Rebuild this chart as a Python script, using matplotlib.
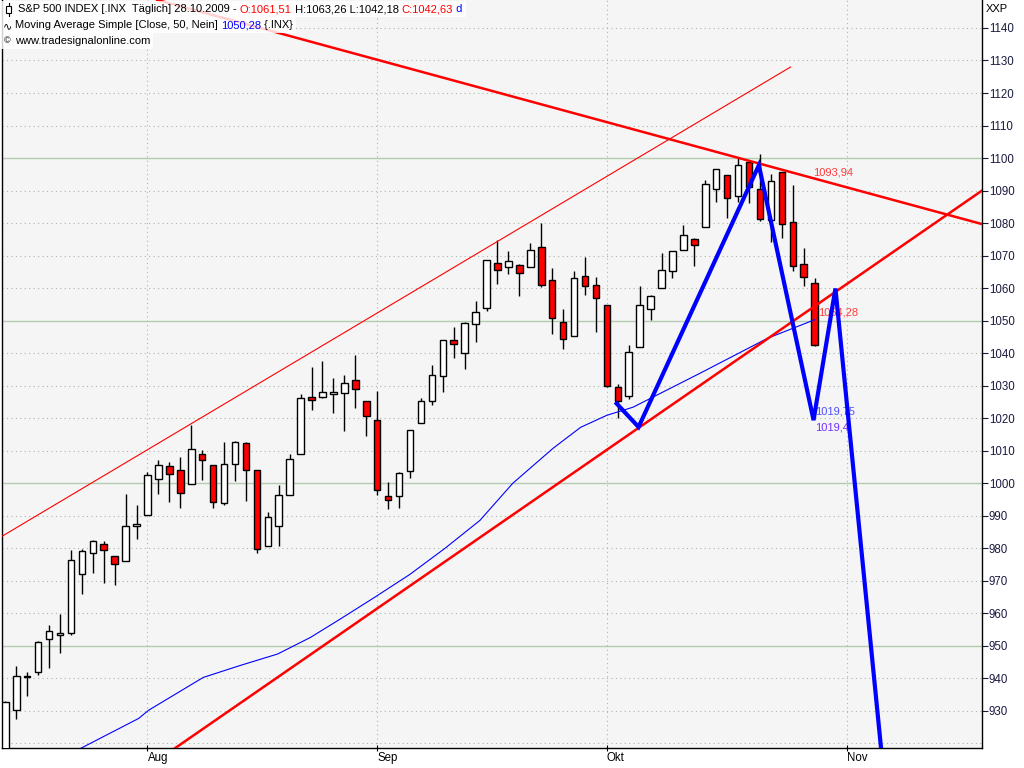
import matplotlib
matplotlib.use("Agg")
from matplotlib import pyplot as plt
from matplotlib.patches import Rectangle
import numpy as np
import pandas as pd

# S&P 500 daily bars, 15.07.2009 - 28.10.2009
opens = [918.38, 930.17, 940.56, 942.07, 951.97, 953.40, 954.07, 972.16, 978.63, 981.48, 977.66, 976.01, 986.80,
         990.22, 1001.41, 1005.41, 1004.06, 999.83, 1008.89, 1005.77, 994.00, 1005.86, 1012.23, 1004.00, 980.62,
         986.88, 996.41, 1009.06, 1026.59, 1026.63, 1027.35, 1027.81, 1031.62, 1025.21,
         1019.52, 996.07, 996.12, 1003.84, 1018.67, 1025.36, 1032.99, 1043.92, 1040.15, 1049.03, 1053.99, 1067.87,
         1066.60, 1067.14, 1066.35, 1072.69, 1062.56, 1049.48, 1045.38, 1063.69, 1061.02,
         1054.91, 1029.71, 1026.87, 1042.02, 1053.65, 1060.03, 1065.28, 1071.63, 1074.96, 1078.68, 1090.36, 1094.67,
         1088.22, 1098.64, 1090.36, 1080.96, 1095.62, 1080.36, 1067.54, 1061.51]
highs = [933.00, 943.96, 941.89, 951.62, 956.53, 959.83, 979.42, 979.79, 982.49, 982.35, 977.76, 996.68, 993.18,
         1003.61, 1007.12, 1006.64, 1008.00, 1018.00, 1010.12, 1005.77, 1012.78, 1013.14, 1012.60, 1004.00, 991.20,
         999.61, 1008.92, 1027.59, 1035.82, 1037.75, 1032.47, 1033.33, 1039.47, 1025.21,
         1028.45, 1000.34, 1003.43, 1016.48, 1026.07, 1036.34, 1044.14, 1048.18, 1049.74, 1056.04, 1068.76, 1074.77,
         1071.52, 1067.28, 1073.81, 1080.15, 1066.29, 1053.47, 1065.13, 1069.62, 1063.40,
         1054.91, 1030.60, 1042.58, 1060.55, 1058.02, 1070.67, 1071.51, 1079.46, 1075.30, 1093.17, 1096.56, 1094.67,
         1100.17, 1098.64, 1101.36, 1095.21, 1095.83, 1091.75, 1072.48, 1063.26]
lows = [918.38, 927.45, 934.65, 940.99, 943.22, 947.75, 953.27, 965.95, 972.29, 969.35, 968.65, 976.01, 982.85,
        990.22, 996.68, 994.31, 992.49, 999.83, 1000.99, 992.40, 993.36, 1000.82, 994.60, 978.51, 980.62,
        980.62, 996.39, 1009.06, 1022.48, 1026.21, 1021.57, 1016.20, 1023.13, 1014.62,
        996.28, 991.97, 992.25, 1001.65, 1018.67, 1023.97, 1028.04, 1038.40, 1035.00, 1043.42, 1052.87, 1061.20,
        1064.27, 1057.46, 1066.35, 1060.39, 1045.85, 1041.17, 1045.38, 1057.83, 1046.47,
        1029.45, 1019.95, 1025.92, 1042.02, 1050.10, 1060.03, 1063.00, 1071.63, 1066.71, 1078.68, 1086.41, 1081.53,
        1086.48, 1086.16, 1080.77, 1074.31, 1075.49, 1065.23, 1060.62, 1042.18]
closes = [932.68, 940.74, 940.38, 951.13, 954.58, 954.07, 976.29, 979.26, 982.18, 979.62, 975.15, 986.75, 987.48,
          1002.63, 1005.65, 1002.72, 997.08, 1010.48, 1007.10, 994.35, 1005.81, 1012.73, 1004.09, 979.73, 989.67,
          996.46, 1007.37, 1026.13, 1025.57, 1028.00, 1028.12, 1030.98, 1028.93, 1020.62,
          998.04, 994.75, 1003.24, 1016.40, 1025.39, 1033.37, 1044.14, 1042.73, 1049.34, 1052.63, 1068.76, 1065.49,
          1068.30, 1064.66, 1071.66, 1060.87, 1050.78, 1044.38, 1062.98, 1060.61, 1057.08,
          1029.85, 1025.21, 1040.46, 1054.72, 1057.58, 1065.48, 1071.49, 1076.19, 1073.19, 1092.02, 1096.56, 1087.68,
          1097.91, 1091.06, 1081.40, 1092.91, 1079.60, 1066.95, 1063.41, 1042.63]

# trading calendar (bar index = position in this list)
holidays = ["2009-09-07", "2009-11-26"]
days = pd.bdate_range("2009-07-15", "2009-11-30").drop(pd.to_datetime(holidays))
month_names = {8: "Aug", 9: "Sep", 10: "Okt", 11: "Nov"}

# 50-day simple moving average (bar index, value)
ma_x = [6.0, 6.9, 12.2, 13.1, 18.1, 21.5, 24.9, 27.9, 30.6, 33.8, 37.0, 40.2, 43.4, 46.4, 50.1, 52.6, 55.0,
        57.4, 63.5, 69.7, 74.0]
ma_y = [916.0, 918.5, 927.7, 930.2, 940.3, 944.0, 947.5, 952.6, 958.2, 965.0, 972.0, 980.0, 988.6, 1000.0,
        1010.8, 1017.2, 1020.9, 1023.4, 1033.8, 1044.6, 1050.28]

# drawn trend lines (bar index, value)
channel_x, channel_y = [-0.5, 71.8], [983.3, 1128.0]
resist_x, resist_y = [13.9, 89.3], [1148.6, 1079.7]
support_x, support_y = [15.5, 89.3], [918.5, 1090.0]
zigzag_x = [55.9, 57.9, 68.9, 73.9, 75.9, 80.5]
zigzag_y = [1024.5, 1017.3, 1097.8, 1019.4, 1059.9, 904.0]

W, H = 1024, 768
fig = plt.figure(figsize=(W / 100, H / 100), dpi=100, facecolor="white")
ax = fig.add_axes([2 / W, 20 / H, 980 / W, 748 / H])
ax.set_facecolor("#f5f5f5")
ax.set_xlim(-0.3, 89.3)
ax.set_ylim(918.6, 1148.6)

# grid
for lv in range(920, 1150, 10):
    if lv % 50 == 0:
        ax.axhline(lv, color="#b4ccb0", lw=1.0, zorder=0)
    else:
        ax.axhline(lv, color="#a8b8a8", lw=0.8, ls=(0, (1, 3)), zorder=0)
tick_pos, tick_lab = [], []
for i in range(1, len(days)):
    if days[i].month != days[i - 1].month and days[i].month in month_names:
        tick_pos.append(i)
        tick_lab.append(month_names[days[i].month])
for p in tick_pos:
    ax.axvline(p, color="#a8b8a8", lw=0.8, ls=(0, (1, 3)), zorder=0)

# candles
idx = np.arange(len(closes))
o, h, l, c = map(np.array, (opens, highs, lows, closes))
ax.vlines(idx, l, h, color="black", lw=1.0, zorder=2)
for i in idx:
    up = c[i] >= o[i]
    lo_, hi_ = min(o[i], c[i]), max(o[i], c[i])
    ax.add_patch(Rectangle((i - 0.3, lo_), 0.6, max(hi_ - lo_, 0.3),
                           facecolor="white" if up else "#ff0000", edgecolor="black", lw=1.0, zorder=3))

# moving average and trend lines
ax.plot(ma_x, ma_y, color="#0000ff", lw=0.8, zorder=4)
ax.plot(channel_x, channel_y, color="#ff0000", lw=0.8, zorder=4)
ax.plot(resist_x, resist_y, color="#ff0000", lw=1.8, zorder=4)
ax.plot(support_x, support_y, color="#ff0000", lw=1.8, zorder=4)

last = len(closes) - 1
r_last = np.interp(last, resist_x, resist_y)
s_last = np.interp(last, support_x, support_y)
lab_kw = dict(fontsize=8, family="Liberation Sans", ha="left", va="center", zorder=5)
ax.text(last - 0.1, r_last + 1.8, "1093,94", color="#ff3c3c", **lab_kw)
ax.text(last + 0.3, s_last - 1.8, "1054,28", color="#ff3c3c", **lab_kw)
ax.text(last, 1019.75 + 2.2, "1019,75", color="#5050ff", **lab_kw)
ax.text(last, 1019.41 - 2.4, "1019,4", color="#7030ff", **lab_kw)

ax.plot(zigzag_x, zigzag_y, color="#0000ff", lw=3.0, zorder=6, solid_joinstyle="miter")

# axes styling
for s in ("left", "right", "bottom"):
    ax.spines[s].set_color("black")
    ax.spines[s].set_linewidth(1.0)
ax.spines["top"].set_visible(False)
ax.yaxis.tick_right()
ax.set_yticks(range(930, 1150, 10))
ax.tick_params(axis="y", length=4, width=0.8, pad=1, labelsize=8.3, labelcolor="#1a1a40", colors="#1a1a40")
ax.set_xticks(tick_pos)
ax.set_xticklabels(tick_lab, ha="left", fontsize=8.3, family="Liberation Sans")
ax.tick_params(axis="x", length=4, width=0.8, pad=1, direction="inout")
for lab in ax.get_yticklabels():
    lab.set_family("Liberation Sans")

fig.text(986 / W, 1 - 9 / H, "XXP", fontsize=8, family="Liberation Sans", va="center", ha="left")

# header legend
fig.canvas.draw()
rend = fig.canvas.get_renderer()
fam = ["Liberation Sans", "DejaVu Sans"]
hsize = 8.0


def text_width(s):
    # width of s including trailing blanks (measured against a marker glyph)
    a = fig.text(0, 0, s + "|", fontsize=hsize, family=fam)
    b = fig.text(0, 0, "|", fontsize=hsize, family=fam)
    w = a.get_window_extent(rend).width - b.get_window_extent(rend).width
    a.remove()
    b.remove()
    return w


def header_row(x_px, y_top, pieces):
    full = "".join(t for t, _ in pieces)
    fig.add_artist(Rectangle((0, 1 - (y_top + 16) / H), (x_px + text_width(full) + 3) / W, 16 / H,
                             transform=fig.transFigure, facecolor="white", edgecolor="none",
                             alpha=0.82, zorder=9))
    prefix = ""
    for txt, col in pieces:
        x = x_px + (text_width(prefix) if prefix else 0)
        fig.text(x / W, 1 - (y_top + 8.5) / H, txt, color=col, fontsize=hsize, family=fam,
                 va="center", ha="left", zorder=10)
        prefix += txt


header_row(18, 1, [("S&P 500 INDEX [.INX  Täglich] 28.10.2009 - ", "black"), ("O:1061,51", "#ff0000"),
                   (" H:1063,26 L:1042,18 ", "black"), ("C:1042,63", "#ff0000"), (" d", "#0000ff")])
header_row(15, 17, [("Moving Average Simple [Close, 50, Nein] ", "black"), ("1050,28", "#0000ff"),
                    (" {.INX}", "black")])
header_row(15, 33, [("www.tradesignalonline.com", "black")])
fig.text(3 / W, 1 - 26 / H, "∿", fontsize=8, family=fam, va="center", ha="left", zorder=10)
fig.text(4 / W, 1 - 41 / H, "©", fontsize=6.5, family=fam, va="center", ha="left", zorder=10)
# small candle icon in front of the first row
fig.add_artist(Rectangle((6 / W, 1 - 13 / H), 5 / W, 7 / H, transform=fig.transFigure,
                         facecolor="white", edgecolor="black", lw=0.8, zorder=11))
fig.add_artist(plt.Line2D([8.5 / W, 8.5 / W], [1 - 16 / H, 1 - 3 / H], transform=fig.transFigure,
                          color="black", lw=0.8, zorder=10))

fig.savefig("out.png", dpi=100)
